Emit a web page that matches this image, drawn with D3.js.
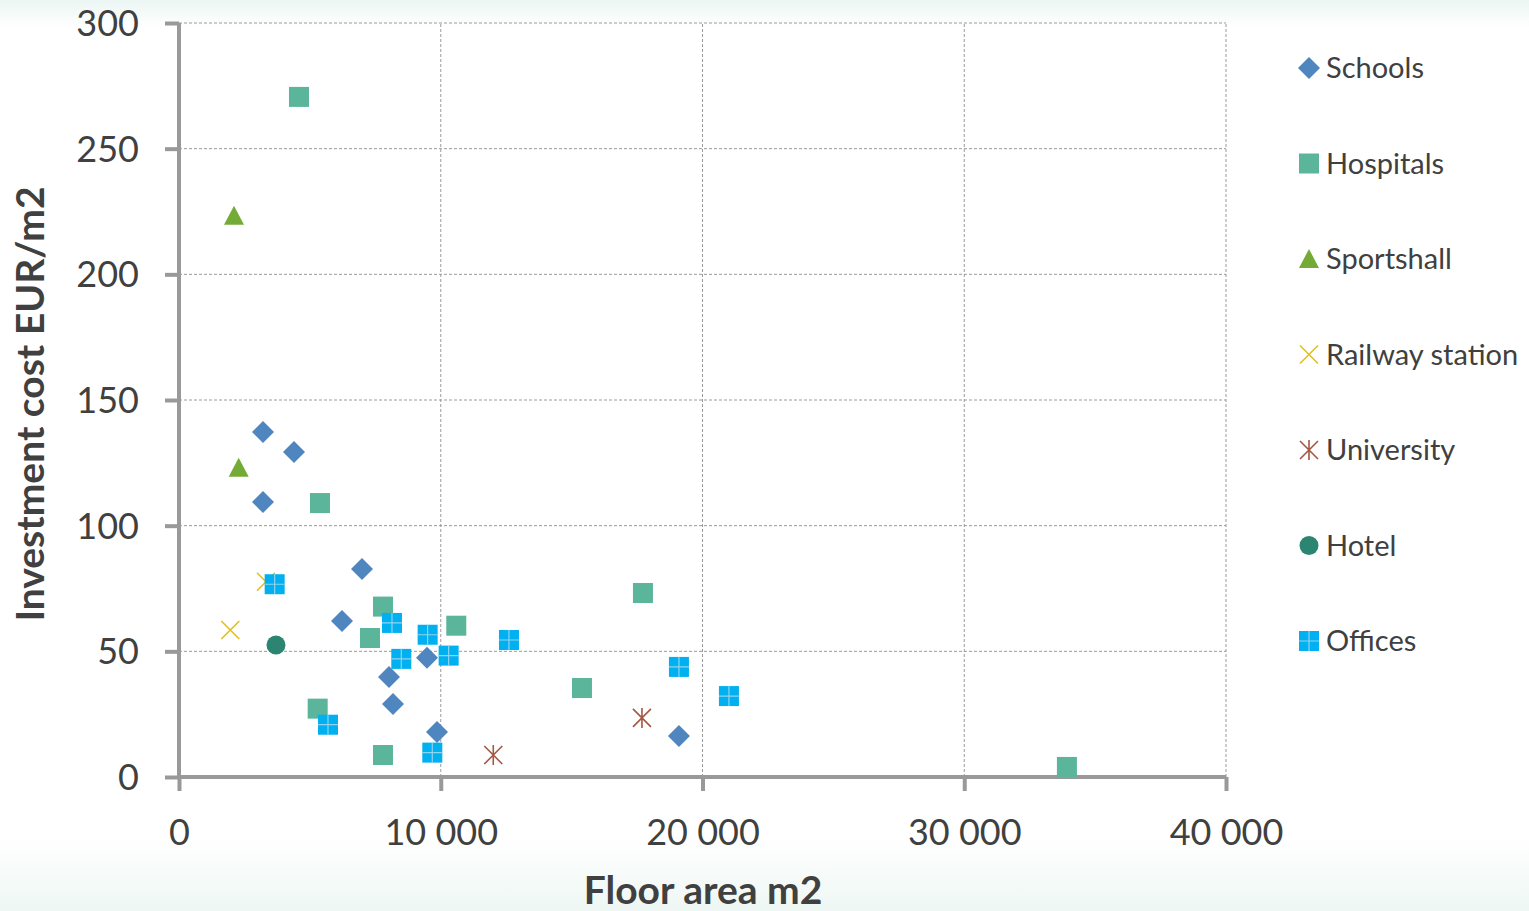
<!DOCTYPE html>
<html><head><meta charset="utf-8">
<script src="https://cdn.jsdelivr.net/npm/d3@7"></script>
<style>html,body{margin:0;padding:0;background:#fff;}svg{display:block;}</style>
</head><body>
<svg id="chart" width="1529" height="911"></svg>
<script>
// ---- data ----
const seriesNames = ["Schools","Hospitals","Sportshall","Railway station","University","Hotel","Offices"];
const schools = [[3209,137.3],[4393,129.3],[3209,109.4],[6991,82.8],[6227,62.1],[8022,39.8],[8175,29],[9474,47.4],[9856,17.9],[19100,16.3]];
const hospitals = [[4584,270.6],[5386,109],[7793,67.8],[7296,55.3],[10593,60.2],[5298,27.2],[7793,8.75],[17725,73.2],[15395,35.4],[33922,4]];
const sportshall = [[2101,223.3],[2280,123]];
const railway = [[1960,58.5],[3323,77.7]];
const university = [[12007,8.75],[17687,23.5]];
const hotel = [[3705,52.5]];
const offices = [[3655,76.7],[8137,61.3],[9499,56.6],[8493,47],[10301,48.3],[5692,20.8],[9677,9.7],[12606,54.5],[19100,43.8],[21010,32.2]];
const xTicks = [0,10000,20000,30000,40000];
const yTicks = [0,50,100,150,200,250,300];
const xTitle = "Floor area m2";
const yTitle = "Investment cost EUR/m2";

const seriesData = [schools,hospitals,sportshall,railway,university,hotel,offices];
const colors = ["#4F86BF","#5AB59A","#74AB37","#E2BF1E","#A65641","#2B8570","#00B0F0"];
const shapes = ["diamond","square","triangle","x","asterisk","circle","office"];

const svg = d3.select("#chart");
const W = 1529, H = 911;
const defs = svg.append("defs");
const g1 = defs.append("linearGradient").attr("id","bg").attr("x1",0).attr("y1",0).attr("x2",0).attr("y2",1);
g1.append("stop").attr("offset","0").attr("stop-color","#ebf6f3");
g1.append("stop").attr("offset","0.03").attr("stop-color","#ffffff");
g1.append("stop").attr("offset","0.92").attr("stop-color","#ffffff");
g1.append("stop").attr("offset","1").attr("stop-color","#eef7f4");
svg.append("rect").attr("width",W).attr("height",H).attr("fill","url(#bg)");

const x = d3.scaleLinear().domain([0,40000]).range([179,1226]);
const y = d3.scaleLinear().domain([0,300]).range([777,23]);
const fmt = d => d3.format(",")(d).replace(/,/g," ");

// gridlines
const grid = svg.append("g");
grid.selectAll("line.h").data(yTicks.filter(d=>d>0)).join("line")
  .attr("x1",x(0)).attr("x2",x(40000)).attr("y1",d=>y(d)).attr("y2",d=>y(d))
  .attr("stroke","#9a9a9a").attr("stroke-width",1).attr("stroke-dasharray","3,2");
grid.selectAll("line.v").data(xTicks.filter(d=>d>0)).join("line")
  .attr("y1",y(0)).attr("y2",y(300)).attr("x1",d=>x(d)).attr("x2",d=>x(d))
  .attr("stroke","#9a9a9a").attr("stroke-width",1).attr("stroke-dasharray","3,2");

// axes
const xAxis = svg.append("g").attr("transform",`translate(0,${y(0)})`)
  .call(d3.axisBottom(x).tickValues(xTicks).tickFormat(fmt).tickSize(14).tickPadding(28));
const yAxis = svg.append("g").attr("transform",`translate(${x(0)},0)`)
  .call(d3.axisLeft(y).tickValues(yTicks).tickSize(14).tickPadding(26));
[xAxis,yAxis].forEach(a=>{
  a.select(".domain").attr("stroke","#999").attr("stroke-width",4);
  a.selectAll(".tick line").attr("stroke","#999").attr("stroke-width",4);
  a.selectAll(".tick text").attr("fill","#404040").style("font-family","Lato, 'Open Sans', sans-serif").style("font-size","36px");
});
xAxis.select(".domain").attr("d",`M${x(0)},0H${x(40000)}`);
yAxis.select(".domain").attr("d",`M0,${y(0)}V${y(300)}`);
yAxis.selectAll(".tick text").attr("dy","0.35em");

// titles
svg.append("text").attr("x",703).attr("y",904).attr("text-anchor","middle")
  .attr("fill","#404040").style("font-family","Lato, 'Open Sans', sans-serif").style("font-weight","bold").style("font-size","39px").text(xTitle);
svg.append("text").attr("transform","translate(44,404) rotate(-90)").attr("text-anchor","middle")
  .attr("fill","#404040").style("font-family","Lato, 'Open Sans', sans-serif").style("font-weight","bold").style("font-size","39px").text(yTitle);

function drawMarker(sel, shape, color){
  sel.each(function(){
    const s = d3.select(this);
    if(shape==="diamond"){
      s.append("path").attr("d","M0,-11L11,0L0,11L-11,0Z").attr("fill",color);
    } else if(shape==="square"){
      s.append("rect").attr("x",-10).attr("y",-10).attr("width",20).attr("height",20).attr("fill",color);
    } else if(shape==="triangle"){
      s.append("path").attr("d","M0,-10L10,9L-10,9Z").attr("fill",color);
    } else if(shape==="x"){
      s.append("path").attr("d","M-9,-9L9,9M-9,9L9,-9").attr("stroke",color).attr("stroke-width",1.6).attr("fill","none");
    } else if(shape==="asterisk"){
      s.append("path").attr("d","M-9,-9L9,9M-9,9L9,-9M0,-10V10").attr("stroke",color).attr("stroke-width",1.6).attr("fill","none");
    } else if(shape==="circle"){
      s.append("circle").attr("r",9.5).attr("fill",color);
    } else if(shape==="office"){
      s.append("rect").attr("x",-10).attr("y",-10).attr("width",20).attr("height",20).attr("fill",color);
      s.append("path").attr("d","M0,-10V10M-10,0H10").attr("stroke","#8fd3ee").attr("stroke-width",1.2);
    }
  });
}

// points
seriesData.forEach((data,i)=>{
  const gs = svg.append("g");
  const pts = gs.selectAll("g").data(data).join("g")
    .attr("transform",d=>`translate(${x(d[0])},${y(d[1])})`);
  drawMarker(pts, shapes[i], colors[i]);
});

// legend
const legY = d3.scalePoint().domain(seriesNames).range([68,641]);
const leg = svg.append("g");
seriesNames.forEach((n,i)=>{
  const lg = leg.append("g").attr("transform",`translate(1309,${legY(n)})`);
  drawMarker(lg, shapes[i], colors[i]);
  lg.append("text").attr("x",17).attr("dy","0.36em").attr("fill","#404040")
    .style("font-family","Lato, 'Open Sans', sans-serif").style("font-size","29px").text(n);
});
</script>
</body></html>
